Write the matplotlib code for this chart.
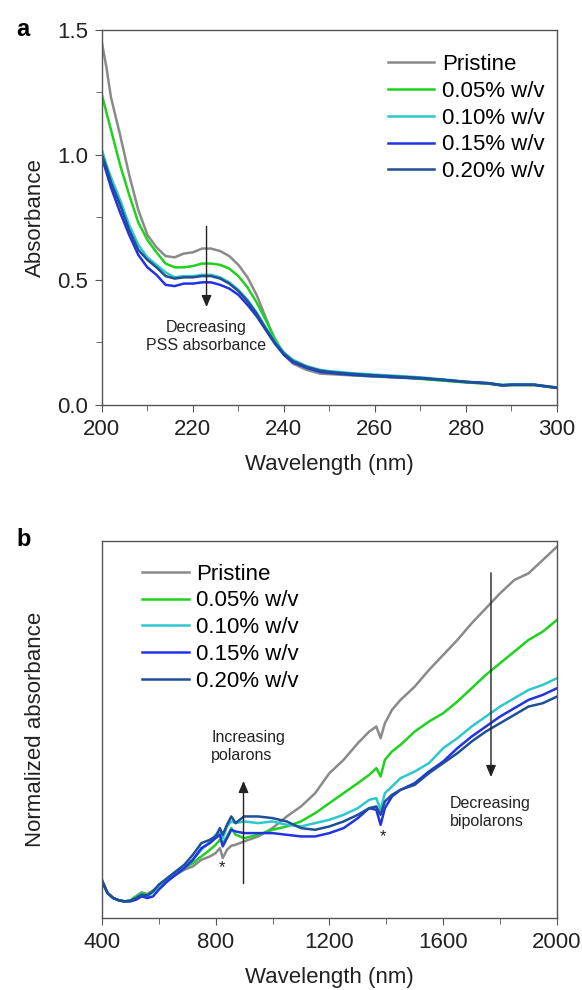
import numpy as np
import matplotlib
matplotlib.use("Agg")
import matplotlib.pyplot as plt
from matplotlib.ticker import MultipleLocator, NullLocator

plt.rcParams['font.family'] = ['Liberation Sans', 'DejaVu Sans']

labels = ["Pristine", "0.05% w/v", "0.10% w/v", "0.15% w/v", "0.20% w/v"]
colors = ["#8a8a8a", "#1ed21e", "#2ec8cc", "#2233e6", "#1f4f96"]

# panel a: UV absorbance
wl_a = [200, 201, 202, 204, 206, 208, 210, 212, 214, 216, 218, 220, 222, 224,
        226, 228, 230, 232, 234, 236, 238, 240, 242, 245, 248, 250, 255, 260,
        265, 270, 275, 280, 285, 288, 290, 295, 300]
abs_pristine = [1.45, 1.35, 1.23, 1.08, 0.92, 0.78, 0.68, 0.63, 0.595, 0.59, 0.605, 0.61,
                0.625, 0.625, 0.615, 0.595, 0.56, 0.51, 0.44, 0.35, 0.26, 0.20, 0.165,
                0.14, 0.125, 0.123, 0.118, 0.113, 0.11, 0.106, 0.098, 0.09, 0.085,
                0.078, 0.08, 0.08, 0.068]
abs_005 = [1.24, 1.17, 1.10, 0.96, 0.84, 0.73, 0.66, 0.61, 0.565, 0.55, 0.55, 0.555,
           0.565, 0.565, 0.56, 0.545, 0.515, 0.47, 0.41, 0.34, 0.265, 0.205, 0.175,
           0.148, 0.133, 0.128, 0.12, 0.114, 0.11, 0.104, 0.097, 0.09, 0.085,
           0.077, 0.079, 0.079, 0.068]
abs_010 = [1.02, 0.96, 0.91, 0.82, 0.72, 0.64, 0.59, 0.56, 0.53, 0.51, 0.515, 0.515,
           0.52, 0.52, 0.51, 0.49, 0.46, 0.42, 0.37, 0.31, 0.255, 0.21, 0.18,
           0.155, 0.14, 0.135, 0.127, 0.121, 0.116, 0.11, 0.102, 0.093, 0.087,
           0.08, 0.082, 0.081, 0.07]
abs_015 = [0.99, 0.93, 0.87, 0.77, 0.68, 0.60, 0.55, 0.52, 0.48, 0.475, 0.485, 0.485,
           0.49, 0.49, 0.48, 0.465, 0.44, 0.40, 0.355, 0.30, 0.245, 0.20, 0.17,
           0.148, 0.132, 0.128, 0.12, 0.115, 0.11, 0.106, 0.1, 0.092, 0.086,
           0.078, 0.08, 0.08, 0.068]
abs_020 = [1.0, 0.95, 0.89, 0.80, 0.70, 0.62, 0.58, 0.55, 0.515, 0.505, 0.51, 0.51,
           0.515, 0.515, 0.505, 0.485, 0.455, 0.415, 0.365, 0.305, 0.25, 0.205, 0.175,
           0.152, 0.137, 0.132, 0.124, 0.118, 0.113, 0.108, 0.1, 0.092, 0.087,
           0.079, 0.081, 0.081, 0.069]

# panel b: vis-NIR normalized absorbance (arbitrary units)
wl_b = [400, 420, 440, 460, 480, 500, 520, 540, 560, 580, 600, 630, 660, 690, 720,
        750, 780, 800, 815, 825, 840, 855, 870, 900, 950, 1000, 1050, 1100, 1150,
        1200, 1250, 1300, 1340, 1365, 1380, 1395, 1420, 1450, 1500, 1550, 1600,
        1650, 1700, 1750, 1800, 1850, 1900, 1950, 2000]
nir_pristine = [0.115, 0.075, 0.06, 0.053, 0.05, 0.053, 0.065, 0.077, 0.072, 0.083,
                0.095, 0.115, 0.13, 0.145, 0.155, 0.175, 0.185, 0.195, 0.21, 0.18,
                0.205, 0.217, 0.22, 0.23, 0.245, 0.27, 0.305, 0.335, 0.375, 0.435,
                0.475, 0.525, 0.56, 0.575, 0.54, 0.585, 0.625, 0.655, 0.695, 0.745,
                0.79, 0.835, 0.885, 0.93, 0.975, 1.015, 1.035, 1.075, 1.115]
nir_005 = [0.11, 0.075, 0.06, 0.053, 0.05, 0.053, 0.065, 0.075, 0.07, 0.08, 0.095,
           0.115, 0.135, 0.15, 0.165, 0.185, 0.205, 0.22, 0.235, 0.225, 0.245, 0.27,
           0.25, 0.24, 0.25, 0.265, 0.275, 0.29, 0.315, 0.345, 0.375, 0.405, 0.43,
           0.45, 0.425, 0.475, 0.5, 0.52, 0.56, 0.59, 0.615, 0.65, 0.69, 0.73, 0.765,
           0.8, 0.835, 0.86, 0.895]
nir_010 = [0.11, 0.075, 0.06, 0.053, 0.05, 0.05, 0.06, 0.072, 0.065, 0.078, 0.095,
           0.115, 0.135, 0.15, 0.175, 0.205, 0.23, 0.25, 0.255, 0.24, 0.275, 0.29,
           0.285, 0.29, 0.285, 0.29, 0.28, 0.275, 0.285, 0.295, 0.31, 0.33, 0.355,
           0.36, 0.325, 0.375, 0.395, 0.42, 0.44, 0.465, 0.51, 0.54, 0.575, 0.605,
           0.635, 0.66, 0.685, 0.7, 0.72]
nir_015 = [0.11, 0.075, 0.06, 0.053, 0.05, 0.05, 0.055, 0.065, 0.06, 0.065, 0.085,
           0.11, 0.13, 0.15, 0.175, 0.21, 0.225, 0.24, 0.25, 0.215, 0.24, 0.265,
           0.26, 0.255, 0.255, 0.255, 0.25, 0.245, 0.245, 0.255, 0.27, 0.3, 0.33,
           0.325, 0.28, 0.33, 0.365, 0.385, 0.405, 0.44, 0.47, 0.51, 0.545, 0.575,
           0.605, 0.63, 0.655, 0.67, 0.69]
nir_020 = [0.115, 0.075, 0.06, 0.053, 0.05, 0.052, 0.06, 0.07, 0.068, 0.08, 0.1,
           0.12, 0.14, 0.16, 0.19, 0.225, 0.235, 0.245, 0.27, 0.25, 0.28, 0.305,
           0.285, 0.305, 0.305, 0.3, 0.29, 0.27, 0.265, 0.275, 0.29, 0.31, 0.33,
           0.335, 0.31, 0.35, 0.37, 0.385, 0.40, 0.435, 0.465, 0.495, 0.53, 0.56,
           0.585, 0.61, 0.635, 0.645, 0.665]

series_a = [abs_pristine, abs_005, abs_010, abs_015, abs_020]
series_b = [nir_pristine, nir_005, nir_010, nir_015, nir_020]

fs = 16
fig = plt.figure(figsize=(5.82, 9.9), dpi=100)
ax1 = fig.add_axes([0.175, 0.591, 0.782, 0.379])
ax2 = fig.add_axes([0.175, 0.0727, 0.782, 0.3808])


def style(ax):
    for s in ax.spines.values():
        s.set_color("#555555")
        s.set_linewidth(1.0)
    ax.tick_params(which="both", direction="out", color="#555555",
                   labelsize=fs, labelcolor="#222222", top=False, right=False)
    ax.tick_params(which="major", length=5, pad=5)
    ax.tick_params(which="minor", length=4)


def legend(ax, x, y):
    ax.legend(loc="upper left", bbox_to_anchor=(x, y), frameon=False,
              fontsize=fs, handlelength=2.1, handletextpad=0.35, labelspacing=0.26,
              borderaxespad=0, borderpad=0)


# panel a
for y, c, lab in zip(series_a, colors, labels):
    ax1.plot(wl_a, y, color=c, lw=1.8, label=lab)
ax1.set_xlim(200, 300)
ax1.set_ylim(0, 1.5)
ax1.xaxis.set_major_locator(MultipleLocator(20))
ax1.xaxis.set_minor_locator(MultipleLocator(10))
ax1.yaxis.set_major_locator(MultipleLocator(0.5))
ax1.yaxis.set_minor_locator(MultipleLocator(0.25))
style(ax1)
ax1.set_xlabel("Wavelength (nm)", fontsize=fs, color="#222222", labelpad=10)
ax1.set_ylabel("Absorbance", fontsize=fs, color="#222222")
ax1.yaxis.set_label_coords(-0.122, 0.5)
legend(ax1, 0.628, 0.935)
ax1.annotate("", xy=(223, 0.38), xytext=(223, 0.725),
             arrowprops=dict(arrowstyle="-|>,head_length=0.7,head_width=0.3",
                             color="#222222", lw=1.0))
ax1.text(223, 0.34, "Decreasing\nPSS absorbance", ha="center", va="top",
         fontsize=11.5, color="#222222", linespacing=1.25)
fig.text(0.028, 0.970, "a", fontsize=17, fontweight="bold", va="center")

# panel b
for y, c, lab in zip(series_b, colors, labels):
    ax2.plot(wl_b, y, color=c, lw=1.8, label=lab)
ax2.set_xlim(400, 2000)
ax2.set_ylim(0, 1.132)
ax2.xaxis.set_major_locator(MultipleLocator(400))
ax2.xaxis.set_minor_locator(MultipleLocator(200))
ax2.yaxis.set_major_locator(NullLocator())
style(ax2)
ax2.set_xlabel("Wavelength (nm)", fontsize=fs, color="#222222", labelpad=10)
ax2.set_ylabel("Normalized absorbance", fontsize=fs, color="#222222")
ax2.yaxis.set_label_coords(-0.122, 0.5)
legend(ax2, 0.088, 0.94)
ax2.annotate("", xy=(898, 0.42), xytext=(898, 0.095),
             arrowprops=dict(arrowstyle="-|>,head_length=0.7,head_width=0.3",
                             color="#222222", lw=1.0))
ax2.text(785, 0.565, "Increasing\npolarons", ha="left", va="top",
         fontsize=11.5, color="#222222", linespacing=1.25)
ax2.annotate("", xy=(1768, 0.415), xytext=(1768, 1.045),
             arrowprops=dict(arrowstyle="-|>,head_length=0.7,head_width=0.3",
                             color="#222222", lw=1.0))
ax2.text(1624, 0.365, "Decreasing\nbipolarons", ha="left", va="top",
         fontsize=11.5, color="#222222", linespacing=1.25)
ax2.text(822, 0.15, "*", ha="center", va="center", fontsize=12, color="#222222")
ax2.text(1387, 0.245, "*", ha="center", va="center", fontsize=12, color="#222222")
fig.text(0.028, 0.455, "b", fontsize=17, fontweight="bold", va="center")

fig.savefig("out.png", dpi=100)
